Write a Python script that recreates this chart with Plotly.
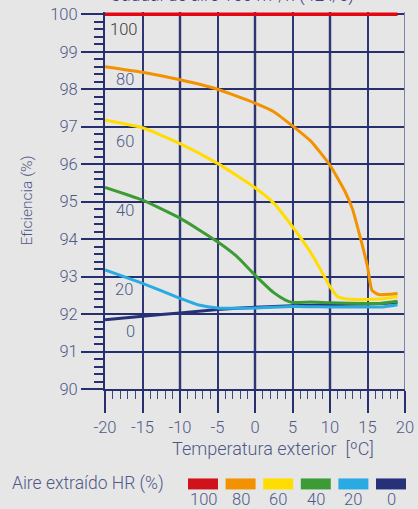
import plotly.graph_objects as go

# ---- data ----
hr_labels = ["100", "80", "60", "40", "20", "0"]
colors = ["#e30613", "#f39200", "#ffdd00", "#3c9b35", "#2aaae2", "#27317a"]

x_100 = [-20, -10, 0, 10, 19]
y_100 = [100, 100, 100, 100, 100]

x_80 = [-20, -15, -10, -5, 0, 2.5, 5, 7.5, 10, 12, 13, 14, 15, 15.6, 16.5, 18, 19]
y_80 = [98.6, 98.45, 98.25, 98.0, 97.63, 97.4, 97.02, 96.6, 95.97, 95.27, 94.8, 94.07, 93.27, 92.63, 92.52, 92.53, 92.55]

x_60 = [-20, -15, -10, -5, 0, 2.5, 5, 7.5, 9, 10, 11, 12, 14, 17, 19]
y_60 = [97.17, 96.97, 96.55, 96.02, 95.37, 94.96, 94.33, 93.62, 93.09, 92.73, 92.47, 92.41, 92.39, 92.41, 92.47]

x_40 = [-20, -15, -10, -5, -2.5, 0, 2.5, 4, 5, 7.5, 10, 15, 17, 19]
y_40 = [95.38, 95.04, 94.56, 93.93, 93.55, 93.04, 92.57, 92.38, 92.31, 92.32, 92.3, 92.28, 92.29, 92.34]

x_20 = [-20, -15, -10, -7.5, -5, 0, 5, 10, 15, 17, 19]
y_20 = [93.18, 92.82, 92.42, 92.24, 92.16, 92.16, 92.2, 92.19, 92.19, 92.19, 92.25]

x_0 = [-20, -15, -10, -5, 0, 5, 10, 15, 19]
y_0 = [91.85, 91.94, 92.03, 92.12, 92.18, 92.22, 92.25, 92.27, 92.3]

series_x = [x_100, x_80, x_60, x_40, x_20, x_0]
series_y = [y_100, y_80, y_60, y_40, y_20, y_0]

# curve label positions (data coords)
lab_x = [-17.6, -17.3, -17.3, -17.4, -17.5, -16.6]
lab_y = [99.59, 98.25, 96.61, 94.77, 92.65, 91.54]

x_ticks = [-20, -15, -10, -5, 0, 5, 10, 15, 20]
y_ticks = [90, 91, 92, 93, 94, 95, 96, 97, 98, 99, 100]

title_text = "Caudal de aire 150 m³/h (42 l/s)"
x_title = "Temperatura exterior  [ºC]"
y_title = "Eficiencia (%)"
legend_title = "Aire extraído HR (%)"

# ---- layout constants ----
W, H = 418, 509
Y_TOP = 100.06
L, R, T, B = 105, 13, 12.25, 119.5
PW, PH = W - L - R, H - T - B
navy = "#27306e"
txt = "#4f5988"
bg = "#e6e6e6"
font = "Roboto"
FW = 300


def px_x(px):
    return (px - L) / PW


def px_y(py):
    return (H - B - py) / PH


def f(size, color=txt):
    return dict(family=font, size=size, color=color, weight=FW)


fig = go.Figure()
order = [5, 4, 3, 2, 1, 0]
for i in order:
    fig.add_trace(go.Scatter(
        x=series_x[i], y=series_y[i], mode="lines",
        line=dict(color=colors[i], width=3 if i else 3.5, shape="spline", smoothing=0.5),
        showlegend=False, hoverinfo="skip"))


def ann(**kw):
    d = dict(showarrow=False, xanchor="center", yanchor="middle")
    d.update(kw)
    return d


annotations = []
for i, lab in enumerate(hr_labels):
    annotations.append(ann(
        x=lab_x[i], y=lab_y[i], xref="x", yref="y", text=lab,
        font=f(16.5, "#3a3a3a" if i == 0 else txt)))

annotations.append(ann(x=px_x(232), y=px_y(8), xref="paper", yref="paper",
                       text=title_text, yanchor="bottom", font=f(17.5, "#3d4680")))
annotations.append(ann(x=px_x(88), y=px_y(484), xref="paper", yref="paper",
                       text=legend_title, font=f(17.5)))
annotations.append(ann(x=px_x(273), y=px_y(449), xref="paper", yref="paper",
                       text=x_title, font=f(18)))

shapes = []
# slightly heavier vertical grid every 10 degrees
for v in x_ticks[2:-1:2]:
    shapes.append(dict(type="line", xref="x", yref="paper", x0=v, x1=v, y0=0, y1=1,
                       layer="below", line=dict(color="#27306e", width=2.4)))

sw_left0, sw_pitch, sw_w = 188, 37.6, 30
for i, lab in enumerate(hr_labels):
    x0 = sw_left0 + i * sw_pitch
    shapes.append(dict(type="rect", xref="paper", yref="paper",
                       x0=px_x(x0), x1=px_x(x0 + sw_w), y0=px_y(490), y1=px_y(479),
                       fillcolor=colors[i] if i else "#d0121b", line=dict(width=0)))
    annotations.append(ann(x=px_x(x0 + sw_w / 2), y=px_y(500), xref="paper", yref="paper",
                           text=lab, font=f(16.5)))

# right border of plot, lighter
shapes.append(dict(type="line", xref="x", yref="paper", x0=20, x1=20, y0=0, y1=1,
                   line=dict(color="#7c82aa", width=2)))

fig.update_layout(
    width=W, height=H,
    margin=dict(l=L, r=R, t=T, b=B, pad=0, autoexpand=False),
    paper_bgcolor=bg, plot_bgcolor=bg,
    annotations=annotations, shapes=shapes,
    xaxis=dict(range=[-20, 20], tickvals=x_ticks, ticktext=[str(v) for v in x_ticks],
               automargin=False,
               showgrid=True, gridcolor="#2e3774", gridwidth=2,
               showline=True, linecolor=navy, linewidth=2,
               ticks="outside", ticklen=22, tickwidth=2, tickcolor=navy,
               tickfont=f(16.5),
               minor=dict(dtick=1, ticks="outside", ticklen=8, tickwidth=1.4,
                          tickcolor="#3e477f", showgrid=False),
               zeroline=False),
    yaxis=dict(range=[90, Y_TOP], tickvals=y_ticks, ticktext=[str(v) for v in y_ticks],
               automargin=False,
               showgrid=True, gridcolor=navy, gridwidth=2,
               showline=True, linecolor=navy, linewidth=2, mirror=False,
               ticks="outside", ticklen=22, tickwidth=2, tickcolor=navy,
               tickfont=f(16.5),
               minor=dict(dtick=0.2, ticks="outside", ticklen=9, tickwidth=1.5,
                          tickcolor=navy, showgrid=False),
               zeroline=False,
               title=dict(text=y_title, font=f(15.5), standoff=14)),
)

fig.write_html("out.html")
